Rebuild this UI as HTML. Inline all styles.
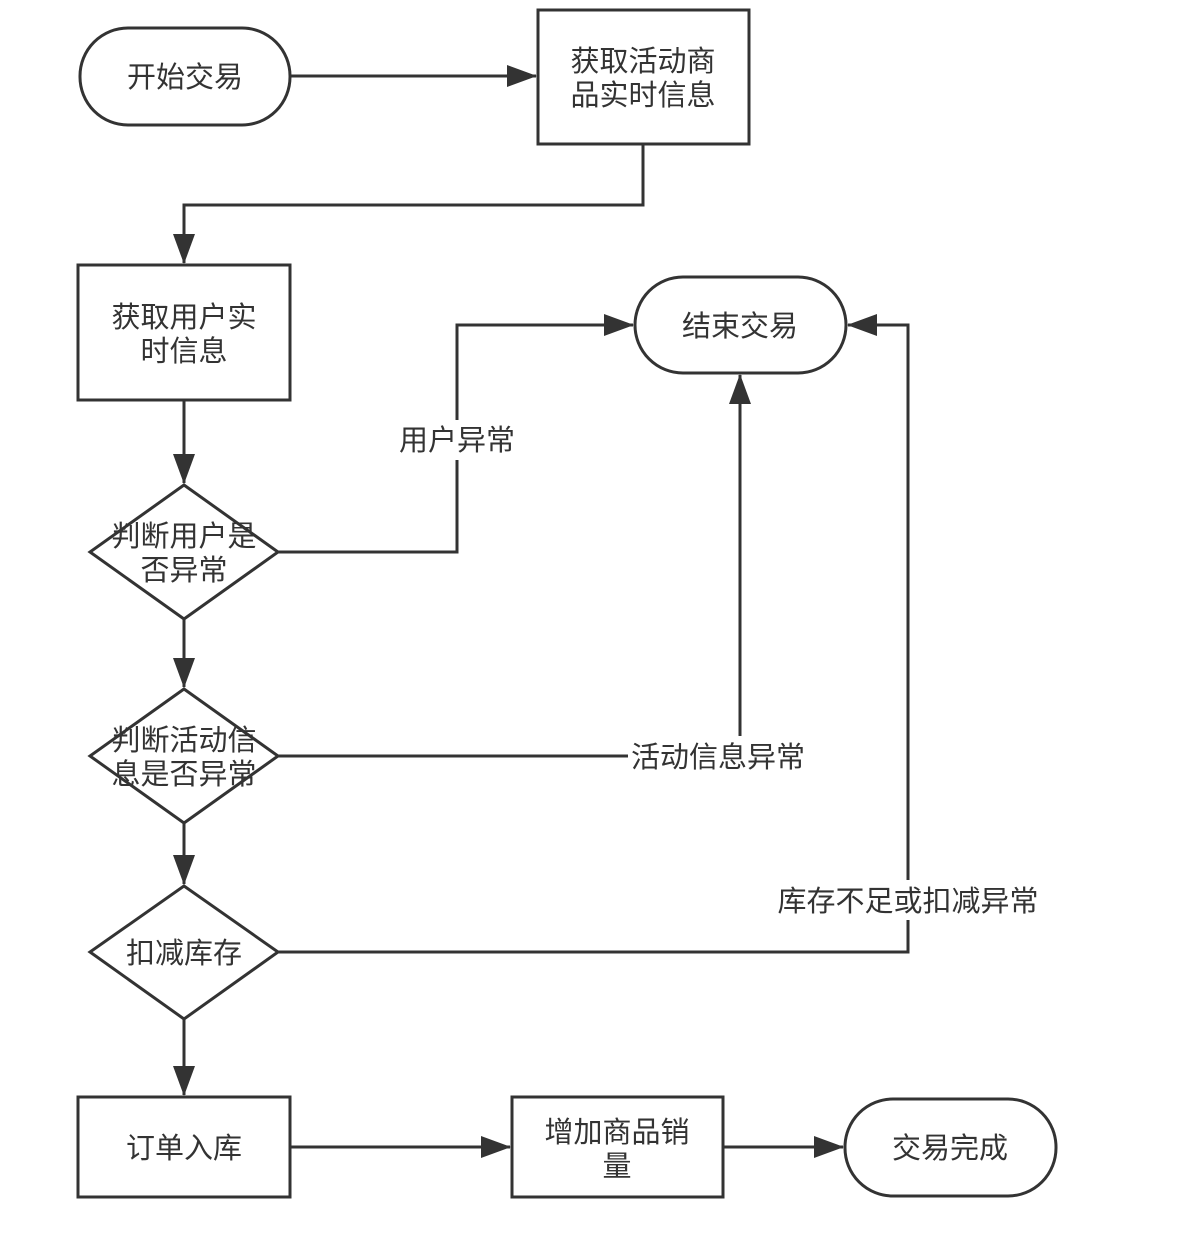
<!DOCTYPE html>
<html><head><meta charset="utf-8"><style>
html,body{margin:0;padding:0;background:#fff;}
svg text{font-family:"Liberation Sans","Noto Sans CJK SC",sans-serif;font-size:29px;fill:#333;}
</style></head><body>
<svg width="1178" height="1230" viewBox="0 0 1178 1230" xmlns="http://www.w3.org/2000/svg">
<defs>
<marker id="b" markerWidth="30" markerHeight="22" refX="29" refY="11" orient="auto" markerUnits="userSpaceOnUse"><path d="M0,0 L30,11 L0,22 z" fill="#333"/></marker></defs>
<g fill="none" stroke="#333" stroke-width="3">
<rect x="80" y="28" width="210" height="97" rx="48"/>
<rect x="538" y="10" width="211" height="134"/>
<rect x="78" y="265" width="212" height="135"/>
<rect x="635" y="277" width="211" height="96" rx="48"/>
<polygon points="184,485 278,552 184,619 90,552"/>
<polygon points="184,689 278,756 184,823 90,756"/>
<polygon points="184,886 278,952 184,1019 90,952"/>
<rect x="78" y="1097" width="212" height="100"/>
<rect x="512" y="1097" width="211" height="100"/>
<rect x="845" y="1099" width="211" height="97" rx="48"/>
<path d="M290,76 L536,76" marker-end="url(#b)"/>
<path d="M643,144 L643,205 L184,205 L184,263" marker-end="url(#b)"/>
<path d="M184,400 L184,483" marker-end="url(#b)"/>
<path d="M184,619 L184,687" marker-end="url(#b)"/>
<path d="M184,823 L184,884" marker-end="url(#b)"/>
<path d="M184,1019 L184,1095" marker-end="url(#b)"/>
<path d="M290,1147 L510,1147" marker-end="url(#b)"/>
<path d="M723,1147 L843,1147" marker-end="url(#b)"/>
<path d="M278,552 L457,552 L457,325 L633,325" marker-end="url(#b)"/>
<path d="M278,756 L740,756 L740,375" marker-end="url(#b)"/>
<path d="M278,952 L908,952 L908,325 L848,325" marker-end="url(#b)"/>
</g>
<rect x="396" y="420" width="124" height="40" fill="#fff"/>
<rect x="628" y="736" width="182" height="40" fill="#fff"/>
<rect x="774" y="880" width="268" height="40" fill="#fff"/>
<g text-anchor="middle">
<text x="185" y="87">开始交易</text>
<text x="643" y="71">获取活动商</text><text x="643" y="105">品实时信息</text>
<text x="184" y="327">获取用户实</text><text x="184" y="361">时信息</text>
<text x="740" y="336">结束交易</text>
<text x="184" y="546">判断用户是</text><text x="184" y="580">否异常</text>
<text x="184" y="750">判断活动信</text><text x="184" y="784">息是否异常</text>
<text x="184" y="963">扣减库存</text>
<text x="184" y="1158">订单入库</text>
<text x="617" y="1142">增加商品销</text><text x="617" y="1176">量</text>
<text x="950" y="1158">交易完成</text>
<text x="457" y="450">用户异常</text>
<text x="718" y="767">活动信息异常</text>
<text x="908" y="911">库存不足或扣减异常</text>
</g>
</svg>
</body></html>
